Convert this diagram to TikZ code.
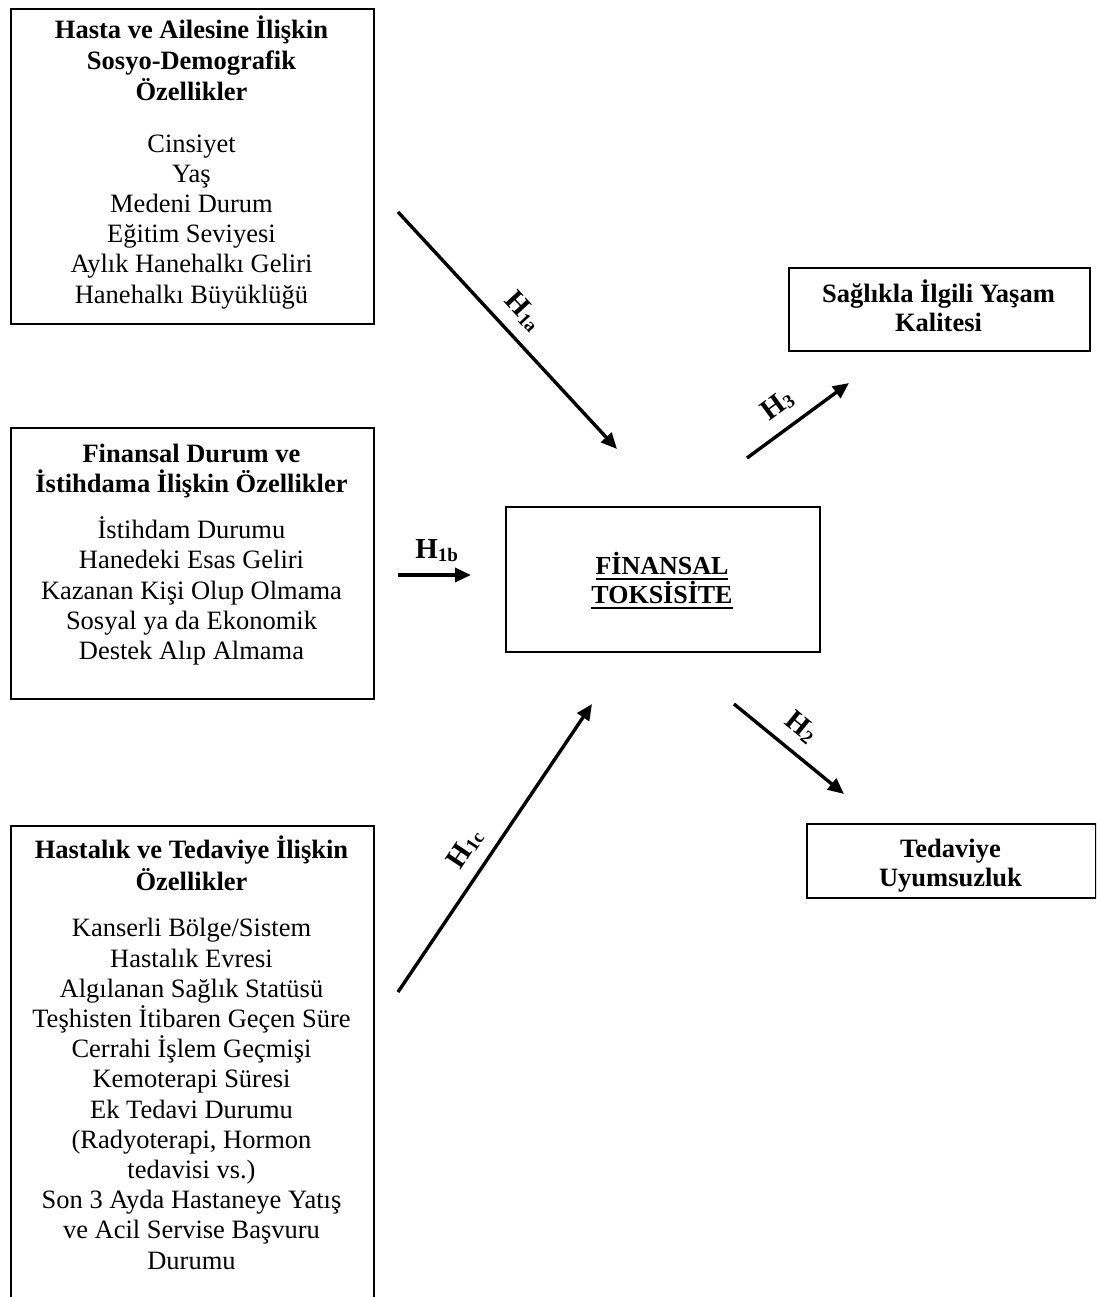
\documentclass[tikz,border=0pt]{standalone}
\usepackage{fontspec}
\setmainfont{Liberation Serif}
\usetikzlibrary{arrows.meta}

% fixed first-line height so text blocks can be placed by their first baseline
\newcommand\topline{\rule{0pt}{22pt}}
% bold underline with a heavier rule
\newcommand\undertext[1]{\leavevmode\vtop{\hbox{#1}\kern3pt\hrule height 2.2pt}}
% hypothesis subscript
\newcommand\hsub[1]{\raisebox{-2.5pt}{\fontsize{19}{19}\selectfont #1}}

\tikzset{
  box/.style={draw, line width=2pt, rectangle, inner sep=0pt, anchor=north west},
  boxtext/.style={anchor=north, align=center, inner sep=0pt,
    font=\fontsize{26.5}{30.2}\selectfont},
  headtext/.style={anchor=north, align=center, inner sep=0pt,
    font=\bfseries\fontsize{26.5}{29}\selectfont},
  hyp/.style={line width=3.4pt, -{Triangle[length=16pt,width=14pt]}},
  hlabel/.style={font=\bfseries\fontsize{29}{30}\selectfont, inner sep=0pt, above=12pt}
}

\begin{document}
\begin{tikzpicture}[x=1pt, y=-1pt]
\clip (0,0) rectangle (1096,1297);
\fill[white] (0,0) rectangle (1096,1297);

% ---- boxes ----
\node[box, minimum width=363pt, minimum height=315pt] (demo) at (10,8) {};
\node[box, minimum width=363pt, minimum height=271pt] (fin) at (10,427) {};
\node[box, minimum width=363pt, minimum height=520pt] (dis) at (10,825) {};
\node[box, minimum width=314pt, minimum height=145pt] (tox) at (505,506) {};
\node[box, minimum width=301pt, minimum height=83pt] (hrq) at (788,267) {};
\node[box, minimum width=289pt, minimum height=74pt] (adh) at (806,823) {};

% ---- box contents ----
\node[boxtext] (demo-t) at (191.5,16) {\topline\textbf{Hasta ve Ailesine İlişkin}\\[0.8pt]
  \textbf{Sosyo-Demografik}\\[0.8pt]
  \textbf{Özellikler}\\[21pt]
  Cinsiyet\\ Yaş\\ Medeni Durum\\ Eğitim Seviyesi\\
  Aylık Hanehalkı Geliri\\ Hanehalkı Büyüklüğü};

\node[boxtext] (fin-t) at (191.5,440) {\topline\textbf{Finansal Durum ve}\\
  \textbf{İstihdama İlişkin Özellikler}\\[16pt]
  İstihdam Durumu\\ Hanedeki Esas Geliri\\ Kazanan Kişi Olup Olmama\\
  Sosyal ya da Ekonomik\\ Destek Alıp Almama};

\node[boxtext] (dis-t) at (191.5,836) {\topline\textbf{Hastalık ve Tedaviye İlişkin}\\[1.5pt]
  \textbf{Özellikler}\\[16pt]
  Kanserli Bölge/Sistem\\ Hastalık Evresi\\ Algılanan Sağlık Statüsü\\
  Teşhisten İtibaren Geçen Süre\\ Cerrahi İşlem Geçmişi\\ Kemoterapi Süresi\\
  Ek Tedavi Durumu\\ (Radyoterapi, Hormon\\ tedavisi vs.)\\
  Son 3 Ayda Hastaneye Yatış\\ ve Acil Servise Başvuru\\ Durumu};

\node[headtext, font=\bfseries\fontsize{26}{29}\selectfont] (tox-t) at (662,552)
  {\topline\undertext{FİNANSAL}\\\undertext{TOKSİSİTE}};

\node[headtext] (hrq-t) at (938.5,280) {\topline Sağlıkla İlgili Yaşam\\ Kalitesi};

\node[headtext] (adh-t) at (950.5,835) {\topline Tedaviye\\ Uyumsuzluk};

% ---- hypothesis arrows ----
\coordinate (h1a-s) at (398,212);
\coordinate (h1a-e) at (617,449);
\coordinate (h1b-s) at (398,575);
\coordinate (h1b-e) at (471,575);
\coordinate (h1c-s) at (398,992);
\coordinate (h1c-e) at (592,704);
\coordinate (h3-s) at (747,458);
\coordinate (h3-e) at (849,383);
\coordinate (h2-s) at (734,704);
\coordinate (h2-e) at (844,794);

\draw[hyp] (h1a-s) -- node[hlabel, sloped, pos=0.49] (h1a-l) {H\hsub{1a}} (h1a-e);
\draw[hyp] (h1b-s) -- node[hlabel, pos=0.53] (h1b-l) {H\hsub{1b}} (h1b-e);
\draw[hyp] (h1c-s) -- node[hlabel, sloped, pos=0.45] (h1c-l) {H\hsub{1c}} (h1c-e);
\draw[hyp] (h3-s) -- node[hlabel, sloped, pos=0.44] (h3-l) {H\hsub{3}} (h3-e);
\draw[hyp] (h2-s) -- node[hlabel, sloped, pos=0.47] (h2-l) {H\hsub{2}} (h2-e);
\end{tikzpicture}
\end{document}
